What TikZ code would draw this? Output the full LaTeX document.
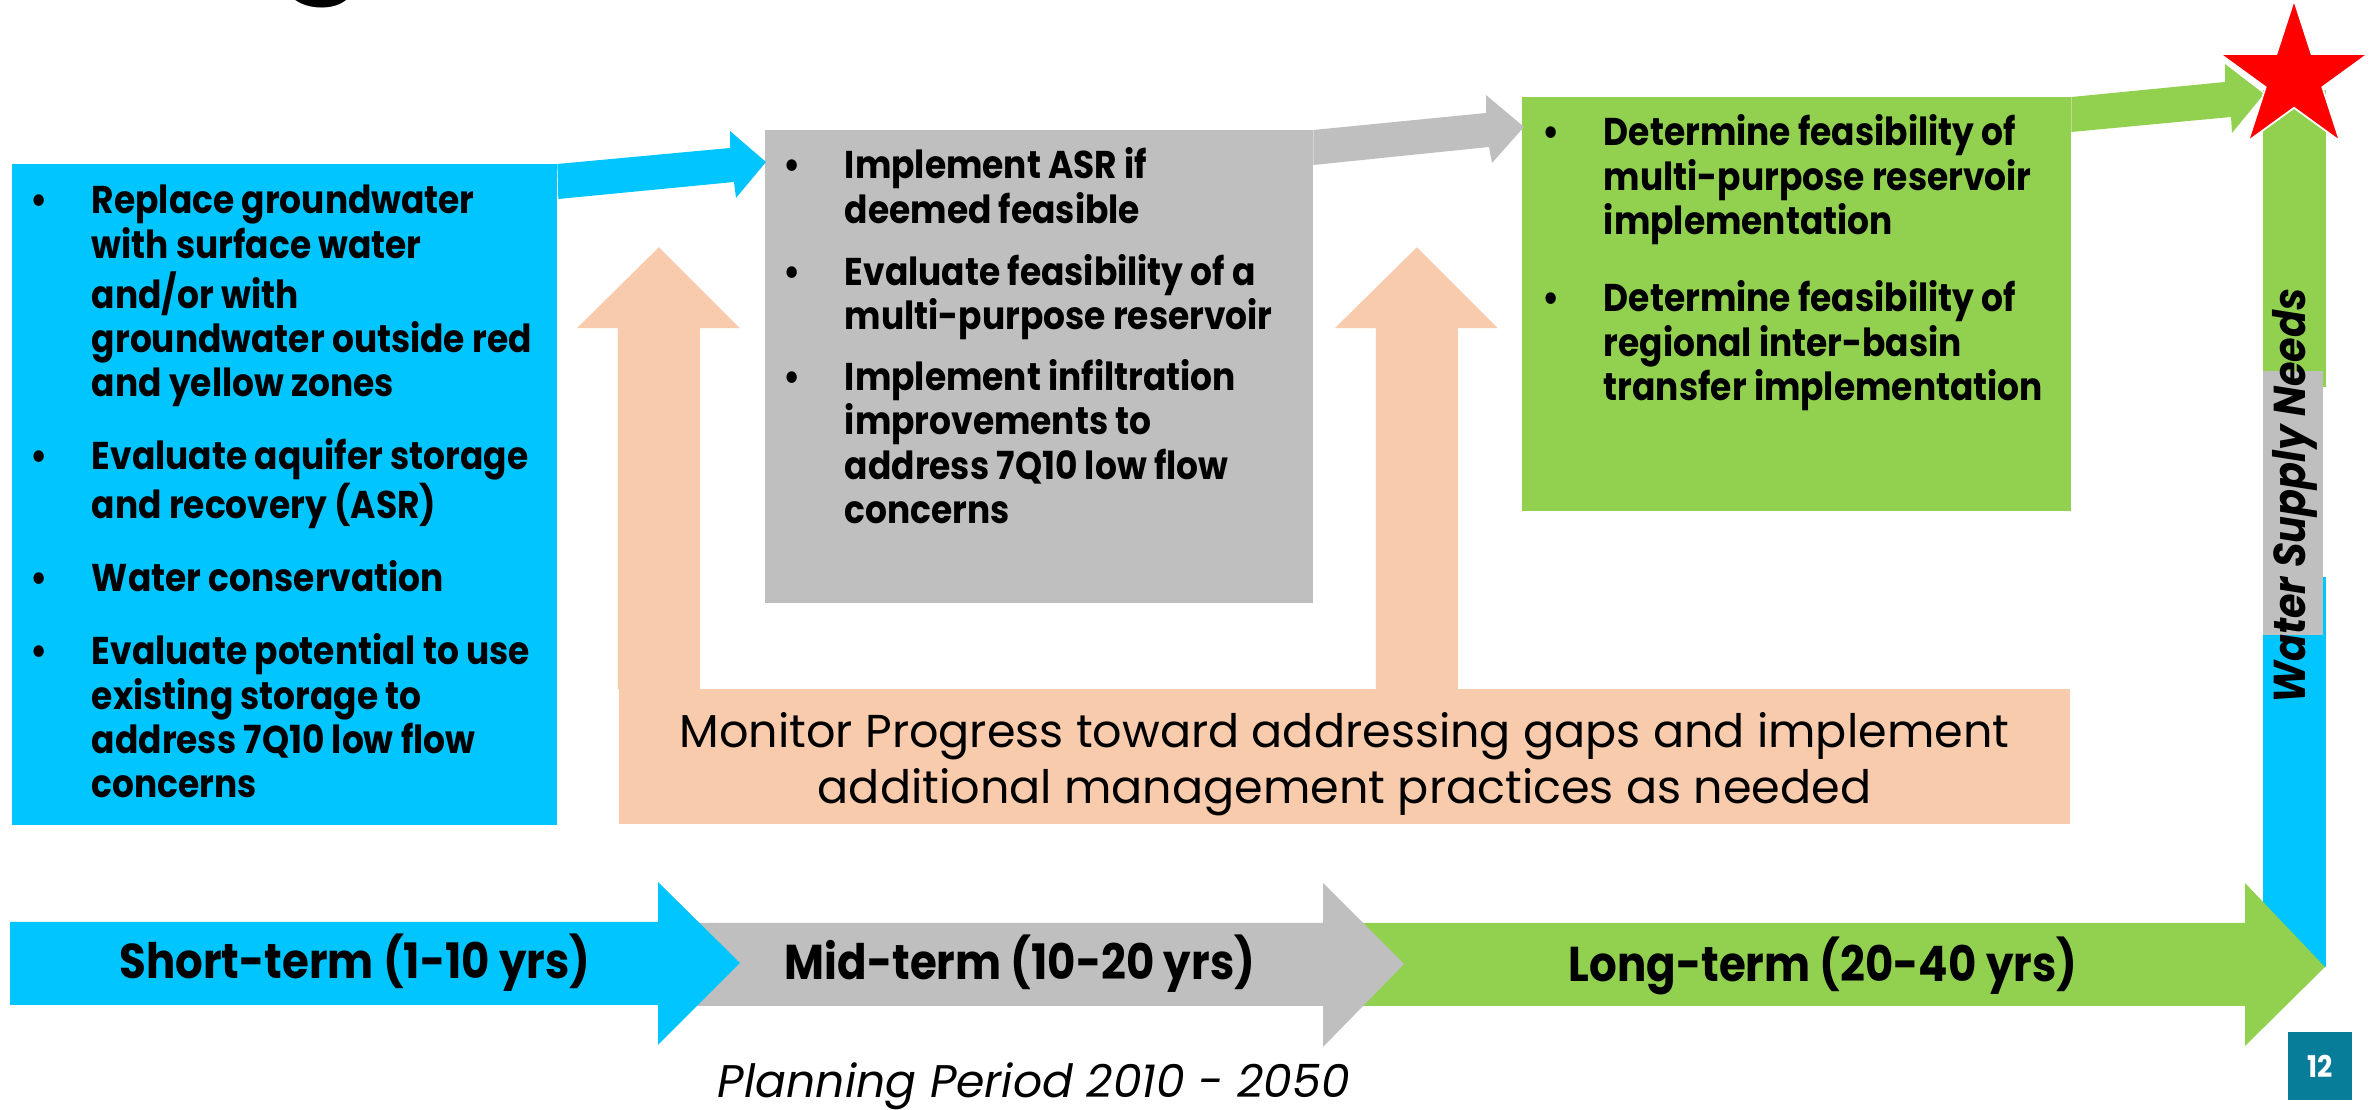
\documentclass[tikz,border=0pt]{standalone}
\usepackage{fontspec}
\setmainfont{Poppins}[FakeStretch=0.89]
\newfontfamily\plainfont{Poppins}
\usetikzlibrary{positioning,calc,shapes.geometric}

\definecolor{cblue}{HTML}{00C5FF}
\definecolor{cgray}{HTML}{BFBFBF}
\definecolor{cgreen}{HTML}{92D050}
\definecolor{cpeach}{HTML}{F8CBAD}
\definecolor{cteal}{HTML}{077D9A}

\newcommand{\itemfont}{\bfseries\fontsize{11}{12.6}\selectfont}
\newcommand{\bul}{\textbullet}

\tikzset{
  box/.style={anchor=north west, inner sep=0pt, outer sep=0pt},
  items/.style={anchor=north west, inner sep=0pt, align=left, font=\itemfont},
  term/.style={inner sep=0pt, font=\bfseries\fontsize{13.9}{15}\selectfont},
}

\begin{document}
\begin{tikzpicture}[x=0.01cm, y=-0.01cm]
\useasboundingbox (0,0) rectangle (2374,1110);

% what is left of the slide title
\node[anchor=south, inner sep=0pt, font=\bfseries\fontsize{46}{46}\selectfont] (ttl) at (322,9) {g};

% boxes
\node[box, fill=cblue,  minimum width=5.45cm, minimum height=6.61cm] (blue)  at (12,164) {};
\node[box, fill=cgray,  minimum width=5.48cm, minimum height=4.73cm] (gray)  at (765,130) {};
\node[box, fill=cgreen, minimum width=5.49cm, minimum height=4.14cm] (green) at (1522,97) {};

\node[items] (bluetxt) at ($(blue.north west)+(18,18)$) {%
  \begin{tabular}{@{}p{17.4pt}@{}l@{}}
  \bul & Replace groundwater\\
       & with surface water\\
       & and/or with\\
       & groundwater outside red\\
       & and yellow zones\\[8.2pt]
  \bul & Evaluate aquifer storage\\
       & and recovery (ASR)\\[8.2pt]
  \bul & Water conservation\\[8.2pt]
  \bul & Evaluate potential to use\\
       & existing storage to\\
       & address 7Q10 low flow\\
       & concerns
  \end{tabular}};

\node[items] (graytxt) at ($(gray.north west)+(18,17)$) {%
  \begin{tabular}{@{}p{17.4pt}@{}l@{}}
  \bul & Implement ASR if\\
       & deemed feasible\\[5.2pt]
  \bul & Evaluate feasibility of a\\
       & multi-purpose reservoir\\[4.6pt]
  \bul & Implement infiltration\\
       & improvements to\\
       & address 7Q10 low flow\\
       & concerns
  \end{tabular}};

\node[items] (greentxt) at ($(green.north west)+(20,17)$) {%
  \begin{tabular}{@{}p{17.4pt}@{}l@{}}
  \bul & Determine feasibility of\\
       & multi-purpose reservoir\\
       & implementation\\[9.4pt]
  \bul & Determine feasibility of\\
       & regional inter-basin\\
       & transfer implementation
  \end{tabular}};

% water supply needs bar
\fill[cgreen] (2263,90) rectangle (2326,387);
\fill[cblue]  (2263,577) rectangle (2326,967);
\fill[cgray]  (2263,371) rectangle (2323,635);
\node[rotate=90, inner sep=0pt, font=\bfseries\itshape\fontsize{12.7}{14}\selectfont] (needs) at (2295,496) {Water Supply Needs};

% slanted arrows between the boxes
\coordinate (tipA) at ($(gray.north west)+(1,32)$);
\fill[cblue] (blue.north east) -- ($(tipA)+(-36,-14)$) -- ($(tipA)+(-36,-31)$) -- (tipA)
  -- ($(tipA)+(-30,36)$) -- ($(tipA)+(-32,20)$) -- ($(blue.north east)+(1,35)$) -- cycle;
\coordinate (tipB) at ($(green.north west)+(2,30)$);
\fill[cgray] (gray.north east) -- ($(tipB)+(-38,-14)$) -- ($(tipB)+(-38,-32)$) -- (tipB)
  -- ($(tipB)+(-32,36)$) -- ($(tipB)+(-35,20)$) -- ($(gray.north east)+(0,35)$) -- cycle;
\coordinate (tipC) at (2264,94);
\fill[cgreen] (green.north east) -- ($(tipC)+(-39,-12)$) -- ($(tipC)+(-39,-30)$) -- (tipC)
  -- ($(tipC)+(-32,39)$) -- ($(tipC)+(-33,23)$) -- ($(green.north east)+(0,35)$) -- cycle;
\node[star, star points=5, star point ratio=2.618, fill=red, draw=white, line width=0.5pt,
      minimum size=1.56cm, inner sep=0pt] (goal) at (2294,78) {};

% monitoring band with its two arrows
\node[fill=cpeach, minimum width=14.51cm, minimum height=1.35cm, inner sep=0pt] (monitor) at (1344.5,756.5) {};
\foreach \sx in {0,758}
  \fill[cpeach] ($(monitor.north west)+(\sx,1)$) -- ++(0,-361) -- ++(-41,0) -- ++(82,-81)
    -- ++(81,81) -- ++(-40,0) -- ++(0,361) -- cycle;
\node[inner sep=0pt, align=center, font=\plainfont\fontsize{13.1}{15.9}\selectfont] (montxt)
  at ($(monitor.center)+(0,8)$)
  {Monitor Progress toward addressing gaps and implement\\additional management practices as needed};

% planning period arrows
\fill[cgreen] (1340,923) -- (2245,923) -- (2245,883) -- (2325,967) -- (2245,1046) -- (2245,1006) -- (1340,1006) -- cycle;
\fill[cgray]  (680,923) -- (1323,923) -- (1323,883) -- (1404,964) -- (1323,1047) -- (1323,1006) -- (680,1006) -- cycle;
\fill[cblue]  (10,922) -- (658,922) -- (658,882) -- (740,963) -- (658,1045) -- (658,1005) -- (10,1005) -- cycle;
\node[term] (short) at (355,963)  {Short-term (1-10 yrs)};
\node[term] (mid)   at (1020,964) {Mid-term (10-20 yrs)};
\node[term] (long)  at (1823,966) {Long-term (20-40 yrs)};

\node[inner sep=0pt, font=\plainfont\itshape\fontsize{13}{14}\selectfont] (period) at (1034,1086) {Planning Period 2010 - 2050};

\node[fill=cteal, minimum width=0.63cm, minimum height=0.68cm, inner sep=0pt, text=white,
      font=\bfseries\fontsize{8.5}{10}\selectfont] (page) at (2320,1066) {12};
\end{tikzpicture}
\end{document}
